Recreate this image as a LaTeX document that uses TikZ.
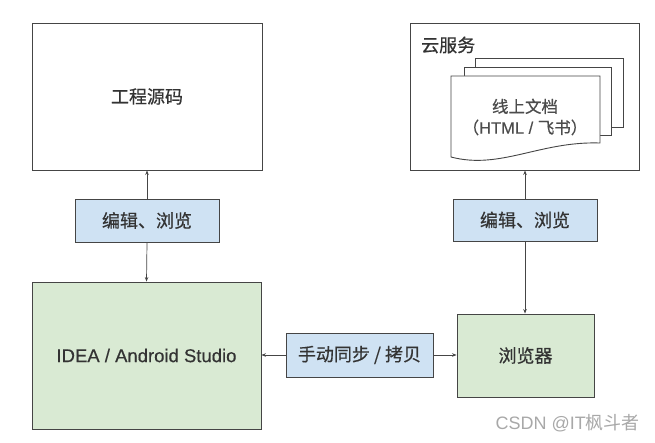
\documentclass[tikz,border=0pt]{standalone}
\usepackage{fontspec}
\setmainfont{Liberation Sans}
\newfontfamily\cjk{Noto Sans CJK SC}[FakeBold=0.6]
\newfontfamily\cjkthin{Noto Sans CJK SC}
\newfontfamily\lat{Liberation Sans}[FakeBold=0.4]
\usetikzlibrary{arrows.meta}
\definecolor{lineC}{HTML}{454545}
\definecolor{blueF}{HTML}{CFE2F3}
\definecolor{greenF}{HTML}{D9EAD3}
\definecolor{wmC}{HTML}{A8A8A8}
\tikzset{
  x=1pt, y=-1pt,
  box/.style={draw=lineC, line width=0.9pt, inner sep=0pt, font=\cjk\fontsize{18}{21}\selectfont, text=black!80},
  wbox/.style={box, fill=white},
  bbox/.style={box, fill=blueF},
  gbox/.style={box, fill=greenF},
  conn/.style={draw=lineC, line width=0.7pt, -{Stealth[length=4.5pt,width=3.5pt]}},
  page/.style={draw=lineC, line width=0.9pt, fill=white}
}
\begin{document}
\begin{tikzpicture}
\useasboundingbox (0,0) rectangle (655,443);
% boxes
\node[wbox, minimum width=230pt, minimum height=147pt] (src) at (147,96.5) {工程源码};
\node[wbox, minimum width=229pt, minimum height=147pt] (cloud) at (524.5,96.5) {};
\node[anchor=west, inner sep=0pt, font=\cjk\fontsize{18}{21}\selectfont, text=black!80] (cloudlbl) at (421,45) {云服务};
% stacked pages
\draw[page] (475,127) -- (475,58) -- (623,58) -- (623,127) -- cycle;
\draw[page] (464,135) -- (464,67) -- (611,67) -- (611,135) -- cycle;
\draw[page] (451,157) -- (451,76) -- (600,76) -- (600,143) .. controls (540,141) and (500,170) .. (451,157) -- cycle;
\node[align=center, inner sep=0pt, font=\cjk\fontsize{16.5}{21}\selectfont, text=black!70] (doc) at (525,117) {线上文档\\（{\lat HTML / }飞书）};
% edit boxes
\node[bbox, minimum width=144pt, minimum height=43pt] (editL) at (147,220.5) {编辑、浏览};
\node[bbox, minimum width=144pt, minimum height=42pt] (editR) at (525,220) {编辑、浏览};
% lower boxes
\node[gbox, minimum width=229pt, minimum height=147pt, font=\lat\fontsize{18.5}{21}\selectfont] (ide) at (146.5,355.5) {IDEA / Android Studio};
\node[bbox, minimum width=147pt, minimum height=44pt] (sync) at (359.5,355) {手动同步 / 拷贝};
\node[gbox, minimum width=137pt, minimum height=83pt] (browser) at (525.5,355.5) {浏览器};
% connectors
\draw[conn] (editL.north) -- (src.south);
\draw[conn] (editL.south) -- (ide.north);
\draw[conn] (editR.north) -- (editR.north |- cloud.south);
\draw[conn] (editR.south) -- (editR.south |- browser.north);
\draw[conn] (sync.west) -- (ide.east |- sync.west);
\draw[conn] (sync.east) -- (browser.west |- sync.east);
% watermark
\node[anchor=east, inner sep=0pt, text=wmC, font=\fontsize{18}{20}\selectfont] (wm) at (640,423) {CSDN @IT{\cjkthin 枫斗者}};
\end{tikzpicture}
\end{document}
